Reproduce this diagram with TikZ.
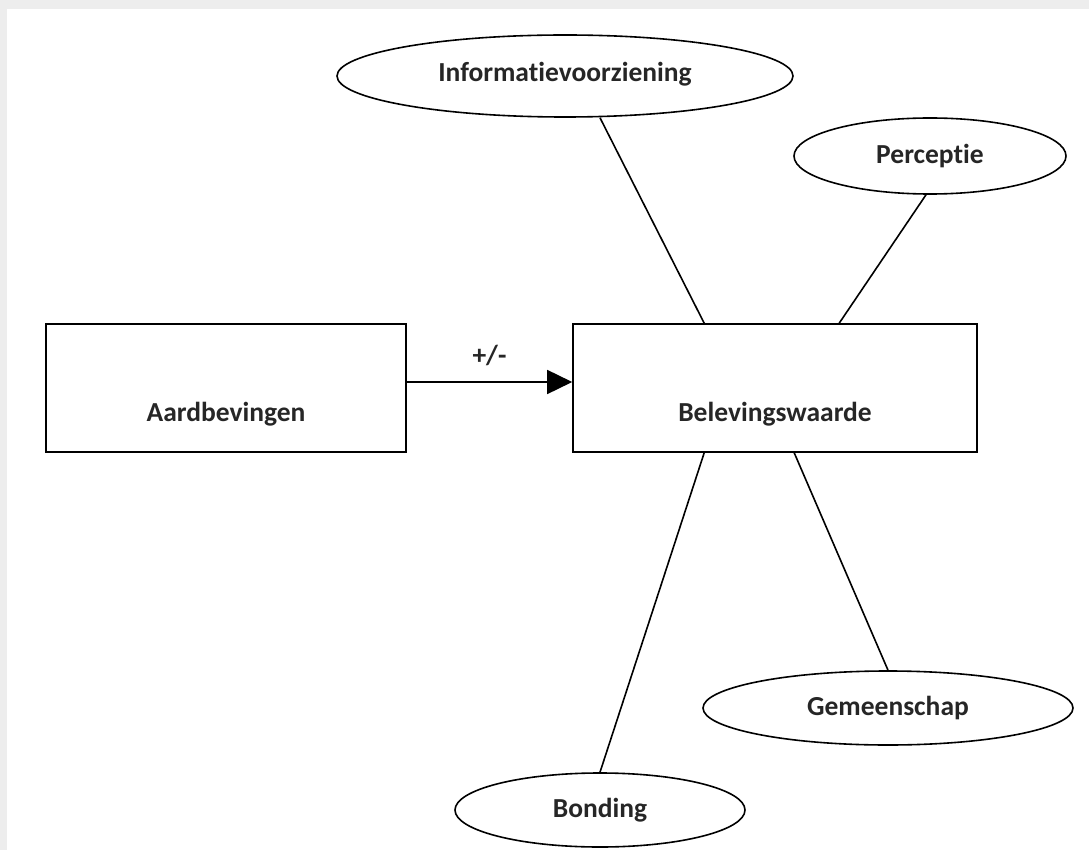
\documentclass[tikz,border=0pt]{standalone}
\usepackage{fontspec}
\setmainfont{Carlito}[Ligatures={NoCommon}]
\usetikzlibrary{shapes.geometric,arrows.meta,calc}
\tikzset{
  lbl/.style={font=\fontsize{27.5}{32}\selectfont\bfseries, text=black!85},
  boxnode/.style={draw, line width=1.6pt, rectangle, inner sep=0pt, lbl},
  ellnode/.style={draw, line width=1.6pt, ellipse, inner sep=0pt, lbl},
  link/.style={line width=1.6pt},
}
\begin{document}
\begin{tikzpicture}[x=1pt,y=-1pt]
\useasboundingbox (0,0) rectangle (1089,850);
\fill[black!7] (0,0) rectangle (1089,850);
\fill[white] (7,9) rectangle (1089,850);
% nodes
\node[boxnode, minimum width=360pt, minimum height=128pt] (aard) at (226,388) {};
\node[lbl] (aardt) at (226,414) {Aardbevingen};
\node[boxnode, minimum width=404pt, minimum height=128pt] (bel) at (775,388) {};
\node[lbl] (belt) at (775,414) {Belevingswaarde};
\node[ellnode, minimum width=456pt, minimum height=82pt] (info) at (565,76) {};
\node[lbl] (infot) at (565,74) {Informatievoorziening};
\node[ellnode, minimum width=272pt, minimum height=76pt] (perc) at (930,156) {Perceptie};
\node[ellnode, minimum width=370pt, minimum height=74pt] (gem) at (888,708) {Gemeenschap};
\node[ellnode, minimum width=290pt, minimum height=74pt] (bond) at (600,810) {Bonding};
% connectors
\draw[link, -{Triangle[length=25pt,width=24pt]}] ($(aard.east)+(0,-6)$) -- node[lbl, above=12pt] (pm) {+/-} ($(bel.west)+(0,-6)$);
\draw[link] ($(info.south)+(35,0)$) -- ($(bel.north west)+(132,0)$);
\draw[link] ($(perc.south)+(-4,0)$) -- ($(bel.north west)+(267,0)$);
\draw[link] ($(bel.south west)+(132,0)$) -- (bond.north);
\draw[link] ($(bel.south west)+(222,0)$) -- (gem.north);
\end{tikzpicture}
\end{document}
